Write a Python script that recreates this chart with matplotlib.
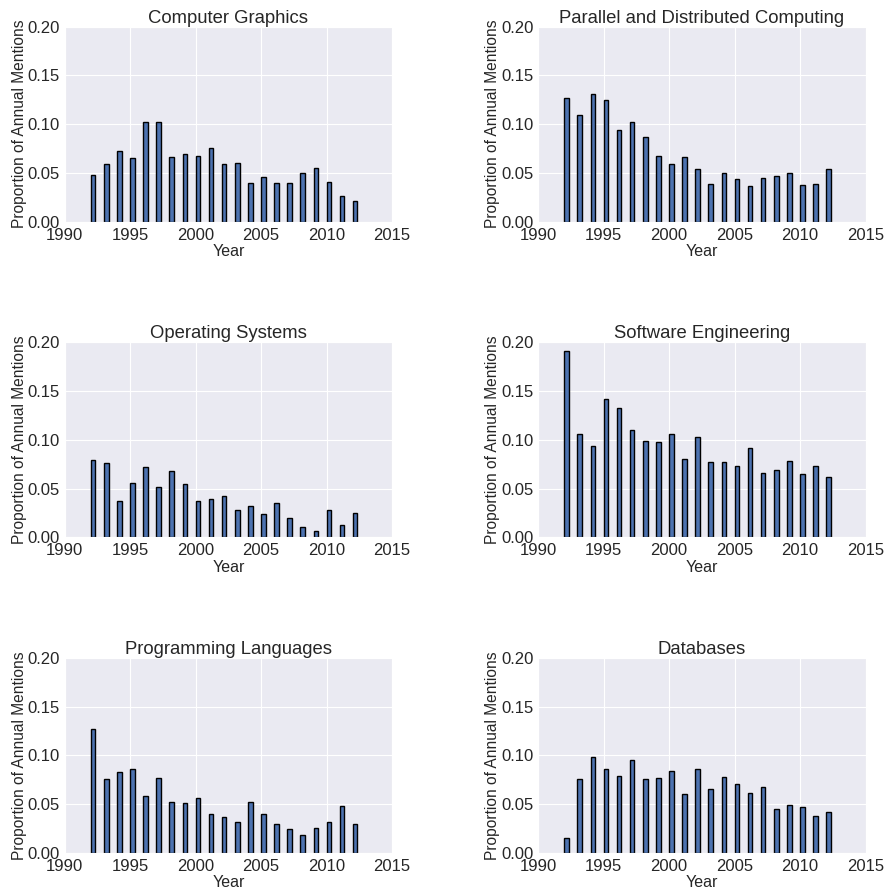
import numpy as np
import matplotlib
matplotlib.use('Agg')
import matplotlib.pyplot as plt
import seaborn as sns
from matplotlib.ticker import FormatStrFormatter

years = list(range(1992, 2013))

titles = ['Computer Graphics', 'Parallel and Distributed Computing',
          'Operating Systems', 'Software Engineering',
          'Programming Languages', 'Databases']

graphics = [0.0474, 0.0596, 0.0729, 0.0658, 0.1026, 0.1026, 0.0668, 0.0698,
            0.0678, 0.0760, 0.0596, 0.0603, 0.0399, 0.0457, 0.0392, 0.0399,
            0.0504, 0.0552, 0.0402, 0.0262, 0.0208]
parallel = [0.1267, 0.1097, 0.1305, 0.1247, 0.0944, 0.1026, 0.0872, 0.0678,
            0.0596, 0.0668, 0.0542, 0.0388, 0.0504, 0.0440, 0.0368, 0.0450,
            0.0470, 0.0494, 0.0378, 0.0382, 0.0542]
opsys = [0.0797, 0.0763, 0.0368, 0.0552, 0.0716, 0.0511, 0.0675, 0.0549,
         0.0375, 0.0388, 0.0419, 0.0276, 0.0317, 0.0235, 0.0348, 0.0201,
         0.0102, 0.0068, 0.0276, 0.0126, 0.0245]
softeng = [0.1911, 0.1060, 0.0940, 0.1420, 0.1329, 0.1104, 0.0991, 0.0978,
           0.1063, 0.0807, 0.1032, 0.0777, 0.0777, 0.0733, 0.0920, 0.0664,
           0.0685, 0.0787, 0.0654, 0.0726, 0.0613]
proglang = [0.1267, 0.0756, 0.0828, 0.0859, 0.0583, 0.0767, 0.0521, 0.0508,
            0.0562, 0.0399, 0.0368, 0.0317, 0.0518, 0.0399, 0.0296, 0.0245,
            0.0184, 0.0256, 0.0317, 0.0477, 0.0296]
databases = [0.0153, 0.0756, 0.0988, 0.0859, 0.0787, 0.0951, 0.0753, 0.0767,
             0.0838, 0.0603, 0.0859, 0.0658, 0.0777, 0.0705, 0.0613, 0.0678,
             0.0450, 0.0491, 0.0470, 0.0378, 0.0416]

series = [graphics, parallel, opsys, softeng, proglang, databases]

sns.set_style('darkgrid')
plt.rcParams['font.family'] = ['Liberation Sans', 'DejaVu Sans']
plt.rcParams['text.color'] = '.15'
plt.rcParams['axes.labelcolor'] = '.15'
plt.rcParams['xtick.color'] = '.15'
plt.rcParams['ytick.color'] = '.15'

fig, axs = plt.subplots(3, 2, figsize=(8.86, 8.93), dpi=100)
plt.subplots_adjust(left=0.073, right=0.977, top=0.970, bottom=0.045,
                    wspace=0.446, hspace=0.62)

for ax, title, vals in zip(axs.flat, titles, series):
    ax.bar(years, vals, width=0.35, align='edge', color='#4C72B0',
           edgecolor='black', linewidth=1)
    ax.set_xlim(1990, 2015)
    ax.set_ylim(0, 0.2)
    ax.set_xticks([1990, 1995, 2000, 2005, 2010, 2015])
    ax.set_yticks([0.0, 0.05, 0.10, 0.15, 0.20])
    ax.yaxis.set_major_formatter(FormatStrFormatter('%.2f'))
    ax.tick_params(labelsize=12, length=0)
    ax.tick_params(axis='x', pad=4.5)
    ax.tick_params(axis='y', pad=3.5)
    ax.set_title(title, fontsize=13.3, pad=3)
    ax.set_xlabel('Year', fontsize=11.5, labelpad=1)
    ax.set_ylabel('Proportion of Annual Mentions', fontsize=11.2, labelpad=0.5)

plt.savefig('out.png', dpi=100)
